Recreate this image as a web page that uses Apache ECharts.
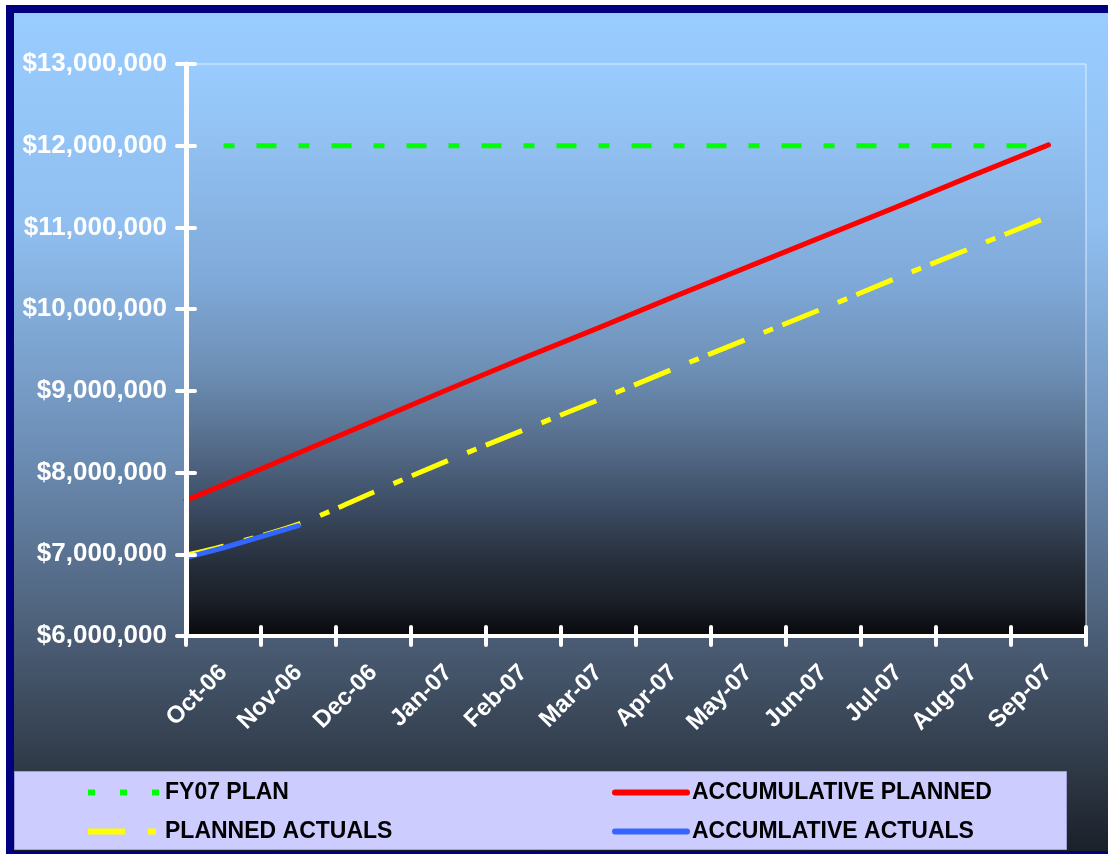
<!DOCTYPE html>
<html>
<head>
<meta charset="utf-8">
<script src="https://cdn.jsdelivr.net/npm/echarts@6/dist/echarts.min.js"></script>
<style>
html,body{margin:0;padding:0;background:#fff;overflow:hidden;width:1108px;height:854px;}
#frame{position:absolute;left:6px;top:5px;border-left:8px solid #000080;border-top:8px solid #000080;border-bottom:8px solid #000080;width:1094px;height:838px;}
#chart{width:1094px;height:838px;}
</style>
</head>
<body>
<div id="frame"><div id="chart"></div></div>
<script>
// ---- data ----
const categories = ['Oct-06','Nov-06','Dec-06','Jan-07','Feb-07','Mar-07','Apr-07','May-07','Jun-07','Jul-07','Aug-07','Sep-07'];
const yMin = 6000000, yMax = 13000000, yStep = 1000000;
const fy07Plan = [12000000,12000000,12000000,12000000,12000000,12000000,12000000,12000000,12000000,12000000,12000000,12000000];
const accumPlannedStart = 7660000;
const accumPlanned = [7850000,8240000,8630000,9020000,9400000,9770000,10150000,10520000,10890000,11260000,11640000,12010000];
const plannedActualsStart = 6990000;
const plannedActuals = [7100000,7370000,7760000,8150000,8520000,8890000,9270000,9640000,10010000,10390000,10760000,11130000];
const accumActualsStart = 6960000;
const accumActuals = [7080000,7350000];

const FONT = "'Liberation Sans', Arial, sans-serif";

function withStart(start, arr) {
  const out = [[-0.5, start]];
  arr.forEach((v, i) => out.push([i, v]));
  return out;
}
function plain(arr) { return arr.map((v, i) => [i, v]); }

const chart = echarts.init(document.getElementById('chart'), null, {renderer: 'canvas'});

const tickStyle = {color: '#ffffff', width: 4, cap: 'round'};
const legendBase = {
  orient: 'horizontal', padding: 0, itemWidth: 72, itemHeight: 22, selectedMode: false,
  itemStyle: {opacity: 0},
  textStyle: {color: '#000000', fontWeight: 'bold', fontSize: 23, fontFamily: FONT, lineHeight: 22}
};

chart.setOption({
  animation: false,
  backgroundColor: {
    type: 'linear', x: 0, y: 0, x2: 0, y2: 1,
    colorStops: [
      {offset: 0, color: '#99ccff'},
      {offset: 0.25, color: '#90bff0'},
      {offset: 0.51, color: '#6e90b8'},
      {offset: 0.75, color: '#4a5c74'},
      {offset: 0.875, color: '#34404f'},
      {offset: 1, color: '#1b2029'}
    ]
  },
  grid: {
    left: 172, top: 51, width: 900, height: 572,
    show: true, borderColor: 'rgba(235,245,255,0.85)', borderWidth: 1,
    backgroundColor: {
      type: 'linear', x: 0, y: 0, x2: 0, y2: 1,
      colorStops: [
        {offset: 0, color: '#99ccff'},
        {offset: 0.1, color: '#94c4f5'},
        {offset: 0.38, color: '#7fa9d8'},
        {offset: 0.535, color: '#6d8fb5'},
        {offset: 0.66, color: '#566e8c'},
        {offset: 0.76, color: '#3f5068'},
        {offset: 0.87, color: '#272f3c'},
        {offset: 0.94, color: '#1a1f27'},
        {offset: 1, color: '#08090c'}
      ]
    }
  },
  graphic: [{
    type: 'rect', left: 0, top: 758, z: -1,
    shape: {width: 1052, height: 78},
    style: {fill: '#ccccff', stroke: '#9f9fd6', lineWidth: 1}
  }],
  legend: [
    Object.assign({}, legendBase, {left: 71, top: 768, data: ['FY07 PLAN'], lineStyle: {width: 6, type: [7, 25]}}),
    Object.assign({}, legendBase, {left: 598, top: 768, data: ['ACCUMULATIVE PLANNED'], lineStyle: {width: 6, cap: 'round'}}),
    Object.assign({}, legendBase, {left: 71, top: 807, data: ['PLANNED ACTUALS'], lineStyle: {width: 6, type: [37, 23, 8, 10]}}),
    Object.assign({}, legendBase, {left: 598, top: 807, data: ['ACCUMLATIVE ACTUALS'], lineStyle: {width: 6, cap: 'round'}})
  ],
  xAxis: [
    {
      type: 'category', data: categories, boundaryGap: true, position: 'bottom', z: 5,
      axisLine: {show: true, onZero: false, lineStyle: {color: '#ffffff', width: 4}},
      axisTick: {show: true, length: 9, interval: 0, lineStyle: tickStyle},
      axisLabel: {show: true, interval: 0, rotate: 45, margin: 33, color: '#ffffff', fontWeight: 'bold', fontSize: 24, fontFamily: FONT},
      splitLine: {show: false}
    },
    {
      type: 'category', data: categories, boundaryGap: true, position: 'bottom', z: 5,
      axisLine: {show: false, onZero: false},
      axisTick: {show: true, inside: true, length: 9, interval: 0, lineStyle: tickStyle},
      axisLabel: {show: false},
      splitLine: {show: false}
    },
    {type: 'value', min: -0.5, max: 11.5, show: false, axisLine: {onZero: false}}
  ],
  yAxis: [
    {
      type: 'value', min: yMin, max: yMax, interval: yStep, position: 'left', z: 5,
      axisLine: {show: true, onZero: false, lineStyle: {color: '#ffffff', width: 5}},
      axisTick: {show: true, length: 9, lineStyle: tickStyle},
      axisLabel: {
        show: true, margin: 19, color: '#ffffff', fontWeight: 'bold', fontSize: 26, fontFamily: FONT,
        formatter: v => '$' + v.toLocaleString('en-US')
      },
      splitLine: {show: false}
    },
    {
      type: 'value', min: yMin, max: yMax, interval: yStep, position: 'left', z: 5,
      axisLine: {show: false, onZero: false},
      axisTick: {show: true, inside: true, length: 9, lineStyle: tickStyle},
      axisLabel: {show: false},
      splitLine: {show: false}
    }
  ],
  series: [
    {
      name: 'FY07 PLAN', type: 'line', xAxisIndex: 2, yAxisIndex: 0, symbol: 'none', showSymbol: false,
      data: plain(fy07Plan),
      lineStyle: {color: '#00ff00', width: 5, type: [11, 22, 20, 22]},
      itemStyle: {color: '#00ff00'}
    },
    {
      name: 'ACCUMULATIVE PLANNED', type: 'line', xAxisIndex: 2, yAxisIndex: 0, symbol: 'none', showSymbol: false,
      data: withStart(accumPlannedStart, accumPlanned),
      lineStyle: {color: '#ff0000', width: 5, cap: 'round', join: 'round'},
      itemStyle: {color: '#ff0000'}
    },
    {
      name: 'PLANNED ACTUALS', type: 'line', xAxisIndex: 2, yAxisIndex: 0, symbol: 'none', showSymbol: false,
      smooth: 0.3,
      data: withStart(plannedActualsStart, plannedActuals),
      lineStyle: {color: '#ffff00', width: 5, type: [39, 21, 10, 10]},
      itemStyle: {color: '#ffff00'}
    },
    {
      name: 'ACCUMLATIVE ACTUALS', type: 'line', xAxisIndex: 2, yAxisIndex: 0, symbol: 'none', showSymbol: false,
      data: withStart(accumActualsStart, accumActuals),
      lineStyle: {color: '#3366ff', width: 5, cap: 'round', join: 'round'},
      itemStyle: {color: '#3366ff'}
    }
  ]
});
</script>
</body>
</html>
